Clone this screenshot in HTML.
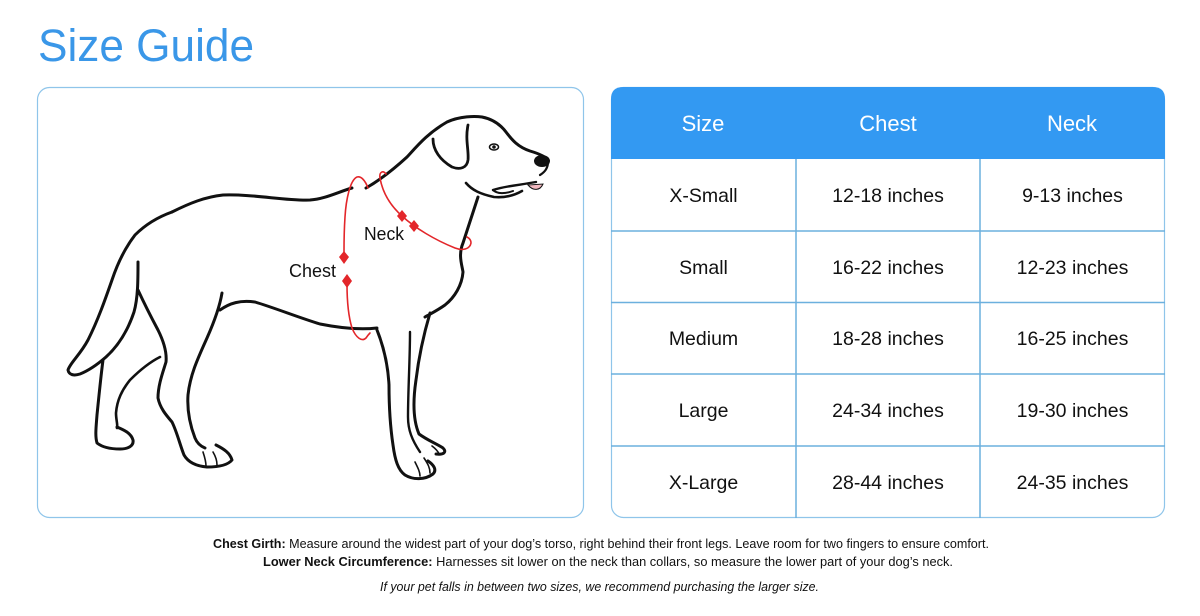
<!DOCTYPE html>
<html>
<head>
<meta charset="utf-8">
<style>
  html,body{margin:0;padding:0;background:#fff;}
  body{width:1200px;height:616px;overflow:hidden;position:relative;}
  svg{display:block;}
  .t{font-family:"Liberation Sans",Arial,sans-serif;}
</style>
</head>
<body>
<svg width="1200" height="616" viewBox="0 0 1200 616" xmlns="http://www.w3.org/2000/svg">
  <rect width="1200" height="616" fill="#fff"/>
  <!-- Title -->
  <text class="t" x="38" y="61" font-size="45" fill="#3a97e8" textLength="216" lengthAdjust="spacingAndGlyphs">Size Guide</text>

  <!-- Left box -->
  <rect x="37.5" y="87.5" width="546" height="430" rx="12" ry="12" fill="#fff" stroke="#8fc5ea" stroke-width="1.2"/>

  <!-- Dog drawing -->
  <g fill="none" stroke="#111" stroke-width="3" stroke-linecap="round" stroke-linejoin="round">
    <!-- back -->
    <path d="M172,212 C190,203 205,197 223,195 C255,194 285,201 310,200 C325,199 338,192 352,188"/>
    <!-- neck top + head -->
    <path d="M366,188 C380,180 395,168 407,157 C418,145 428,133 447,122 C460,116 475,116 482,117 C492,119 500,124 506,132 C512,140 518,147 530,151 C540,154 546,157 548,160"/>
    <path d="M548,162 C548,168 545,172 540,175" stroke-width="2.2"/>
    <!-- mouth -->
    <path d="M493,190 C505,186 520,185 536,182" stroke-width="2.4"/>
    <path d="M466,183 C472,190 480,194 494,197 C505,198 515,195 522,191" stroke-width="2.6"/>
    <path d="M493,190 C497,194 505,194 513,191" stroke-width="2"/>
    <!-- ear -->
    <path d="M433,139 C433,150 440,160 452,167 C460,170 467,168 468,160 C469,150 465,140 468,125" stroke-width="2.8"/>
    <!-- throat / chest front -->
    <path d="M478,197 C473,212 468,228 463,243 C458,255 462,265 463,272 C462,285 455,297 445,305 C438,310 432,313 425,317"/>
    <!-- front legs -->
    <path d="M430,313 C425,330 419,355 416,380 C413,400 413,420 419,434 C427,440 437,444 443,448 C447,452 444,455 436,454"/>
    <path d="M410,332 C410,360 408,390 408,417 C408,430 412,440 420,452" stroke-width="2.4"/>
    <path d="M377,330 C383,345 388,365 389,385 C389,405 390,425 393,445 C395,460 398,470 405,475 C413,480 425,480 433,474 C437,470 434,465 428,461"/>
    <path d="M415,462 C418,468 420,472 420,476" stroke-width="1.6"/>
    <path d="M424,458 C428,464 430,468 430,473" stroke-width="1.6"/>
    <path d="M432,446 C436,449 438,451 439,454" stroke-width="1.6"/>
    <!-- belly -->
    <path d="M220,310 C230,303 240,300 255,302 C275,308 300,318 320,324 C340,328 360,330 377,328"/>
    <!-- rump + tail -->
    <path d="M172,212 C158,217 145,225 135,235 C125,248 118,262 112,280 C105,300 98,320 88,340 C80,355 70,363 68,370 C69,375 74,376 80,374 C90,370 98,364 106,357 C118,346 128,330 134,312 C138,298 138,280 138,262"/>
    <!-- outer hind leg -->
    <path d="M103,360 C101,375 99,395 97,415 C96,428 95,436 97,443 C102,447 110,449 120,449 C128,449 134,446 133,440 C131,433 124,430 117,427"/>
    <path d="M160,357 C150,362 140,370 130,380 C122,390 117,400 116,413 C116,420 118,425 117,428" stroke-width="2.6"/>
    <!-- inner hind leg -->
    <path d="M138,290 C144,303 150,315 158,330 C164,342 167,352 166,362 C163,372 158,385 158,398 C160,408 166,415 172,422 C177,432 180,445 184,455 C188,462 195,466 207,467 C218,467 228,465 232,460 C230,453 224,449 216,445"/>
    <path d="M222,293 C220,305 215,320 207,338 C198,358 190,375 188,395 C187,410 190,425 195,438 C197,443 200,446 205,448"/>
    <path d="M203,452 C205,458 206,462 206,466" stroke-width="1.6"/>
    <path d="M213,452 C216,457 217,461 217,465" stroke-width="1.6"/>
    <!-- eye -->
    <ellipse cx="494" cy="147" rx="4.5" ry="3" stroke-width="1.5"/>
  </g>
  <circle cx="494" cy="147" r="1.8" fill="#111"/>
  <!-- nose -->
  <ellipse cx="542" cy="161" rx="8" ry="6" fill="#111"/>
  <!-- tongue -->
  <path d="M528,185 C533,191 540,191 543,184 Z" fill="#f2b8c0" stroke="#111" stroke-width="1"/>

  <!-- red measuring lines -->
  <g fill="none" stroke="#e3262a" stroke-width="1.6" stroke-linecap="round">
    <path d="M368,188 C365,180 361,176 357,177 C350,180 346,200 345,217 C344,232 344,245 344,252"/>
    <path d="M347,284 C347,298 348,315 352,328 C356,338 362,342 366,338 C368,335 369,334 370,333"/>
    <path d="M386,174 C383,170 379,172 380,178 C383,195 392,207 402,216 C415,228 435,240 455,248 C463,251 470,249 471,243 C471,240 469,238 467,237"/>
  </g>
  <g fill="#e3262a">
    <polygon points="344,251 349,257 344,264 339,257"/>
    <polygon points="347,274 352,281 347,288 342,281"/>
    <polygon points="402,210 407,216 402,222 397,216"/>
    <polygon points="414,220 419,226 414,232 409,226"/>
  </g>

  <!-- Chest / Neck labels -->
  <text class="t" x="289" y="277" font-size="18" fill="#111" textLength="47" lengthAdjust="spacingAndGlyphs">Chest</text>
  <text class="t" x="364" y="240" font-size="18" fill="#111" textLength="40" lengthAdjust="spacingAndGlyphs">Neck</text>

  <!-- Table -->
  <rect x="611.5" y="87.5" width="553" height="430" rx="12" ry="12" fill="#fff" stroke="#8fc5ea" stroke-width="1.2"/>
  <path d="M611,159 L611,99 Q611,87 623,87 L1153,87 Q1165,87 1165,99 L1165,159 Z" fill="#3399f2"/>
  <g stroke="#6cb0de" stroke-width="1.5">
    <line x1="611" y1="231" x2="1165" y2="231"/>
    <line x1="611" y1="302.5" x2="1165" y2="302.5"/>
    <line x1="611" y1="374" x2="1165" y2="374"/>
    <line x1="611" y1="446" x2="1165" y2="446"/>
    <line x1="796" y1="159" x2="796" y2="518"/>
    <line x1="980" y1="159" x2="980" y2="518"/>
  </g>
  <g class="t" font-size="22" fill="#fff" text-anchor="middle">
    <text x="703" y="131">Size</text>
    <text x="888" y="131">Chest</text>
    <text x="1072" y="131">Neck</text>
  </g>
  <g class="t" font-size="19.5" fill="#111" text-anchor="middle">
    <text x="703.5" y="202">X-Small</text>
    <text x="888" y="202">12-18 inches</text>
    <text x="1072.5" y="202">9-13 inches</text>

    <text x="703.5" y="274">Small</text>
    <text x="888" y="274">16-22 inches</text>
    <text x="1072.5" y="274">12-23 inches</text>

    <text x="703.5" y="345">Medium</text>
    <text x="888" y="345">18-28 inches</text>
    <text x="1072.5" y="345">16-25 inches</text>

    <text x="703.5" y="417">Large</text>
    <text x="888" y="417">24-34 inches</text>
    <text x="1072.5" y="417">19-30 inches</text>

    <text x="703.5" y="489">X-Large</text>
    <text x="888" y="489">28-44 inches</text>
    <text x="1072.5" y="489">24-35 inches</text>
  </g>

  <!-- Footer -->
  <g class="t" font-size="12.5" fill="#111">
    <text x="213" y="548" textLength="776" lengthAdjust="spacingAndGlyphs"><tspan font-weight="bold">Chest Girth:</tspan> Measure around the widest part of your dog’s torso, right behind their front legs. Leave room for two fingers to ensure comfort.</text>
    <text x="263" y="566" textLength="690" lengthAdjust="spacingAndGlyphs"><tspan font-weight="bold">Lower Neck Circumference:</tspan> Harnesses sit lower on the neck than collars, so measure the lower part of your dog’s neck.</text>
    <text x="380" y="591" font-style="italic" textLength="439" lengthAdjust="spacingAndGlyphs">If your pet falls in between two sizes, we recommend purchasing the larger size.</text>
  </g>
</svg>
</body>
</html>
